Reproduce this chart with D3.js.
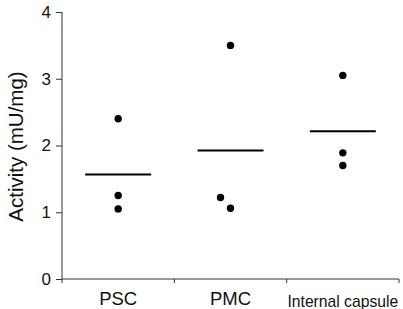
<!DOCTYPE html>
<html><head><meta charset="utf-8">
<script src="https://cdn.jsdelivr.net/npm/d3@7"></script>
<style>
html,body{margin:0;padding:0;background:#fff;}
svg{display:block;font-family:"Liberation Sans",Arial,sans-serif;}
</style></head>
<body>
<svg id="chart" width="403" height="309"></svg>
<script>
// ---- data ----
const categories = ["PSC", "PMC", "Internal capsule"];
const pscValues = [2.40, 1.25, 1.05];
const pmcValues = [3.50, 1.22, 1.06];
const icValues = [3.05, 1.89, 1.70];
const yTicks = [0, 1, 2, 3, 4];
const yLabel = "Activity (mU/mg)";

const seriesValues = [pscValues, pmcValues, icValues];

// ---- layout ----
const svg = d3.select("#chart");
const x = d3.scaleBand().domain(categories).range([62, 399]).paddingInner(0).paddingOuter(0);
const y = d3.scaleLinear().domain([0, 4]).range([279, 12]);
const ink = "#111";

// y axis
const yAxis = svg.append("g").attr("transform", "translate(62,0)")
  .call(d3.axisLeft(y).tickValues(yTicks).tickSize(6).tickPadding(5).tickFormat(d3.format("d")));
yAxis.select(".domain").attr("stroke", "#333").attr("d", `M-0,${y(4)}H0V${y(0)}`);
yAxis.selectAll(".tick line").attr("stroke", "#333");
yAxis.selectAll(".tick text").attr("font-size", 17).attr("fill", ink)
  .attr("font-family", "Liberation Sans, Arial, sans-serif");

// x axis line with ticks at category boundaries
const xg = svg.append("g").attr("transform", `translate(0,${y(0)})`);
const edges = categories.map(c => x(c)).concat([x(categories[categories.length - 1]) + x.bandwidth()]);
xg.append("line").attr("x1", x.range()[0]).attr("x2", x.range()[1])
  .attr("y1", 0).attr("y2", 0).attr("stroke", "#333");
xg.selectAll("line.edge").data(edges).enter().append("line").attr("class", "edge")
  .attr("x1", d => d).attr("x2", d => d).attr("y1", 0).attr("y2", 4).attr("stroke", "#333");

// x labels
const labelSize = {"PSC": 18.5, "PMC": 18.5, "Internal capsule": 15.7};
const labelBase = {"PSC": 304.5, "PMC": 304.5, "Internal capsule": 306.5};
svg.selectAll("text.xl").data(categories).enter().append("text").attr("class", "xl")
  .attr("x", d => x(d) + x.bandwidth() / 2)
  .attr("y", d => labelBase[d])
  .attr("text-anchor", "middle")
  .attr("font-size", d => labelSize[d])
  .attr("fill", ink)
  .text(d => d);

// y label
svg.append("text")
  .attr("transform", `translate(22.5,${(y(0) + y(4)) / 2 + 1}) rotate(-90)`)
  .attr("text-anchor", "middle")
  .attr("font-size", 20.5)
  .attr("fill", ink)
  .text(yLabel);

// dodge (in px) so nearby points don't sit on each other, as in the source
const dodge = [[0, 0, 0], [0, -10, 0], [0, 0, 0]];

categories.forEach((c, i) => {
  const cx = x(c) + x.bandwidth() / 2;
  const vals = seriesValues[i];
  svg.selectAll(null).data(vals).enter().append("circle")
    .attr("cx", (d, j) => cx + dodge[i][j])
    .attr("cy", d => y(d))
    .attr("r", 3.7)
    .attr("fill", "#000");
  const m = d3.mean(vals);
  svg.append("line")
    .attr("x1", cx - 33).attr("x2", cx + 33)
    .attr("y1", y(m)).attr("y2", y(m))
    .attr("stroke", "#000").attr("stroke-width", 2);
});
</script>
</body></html>
